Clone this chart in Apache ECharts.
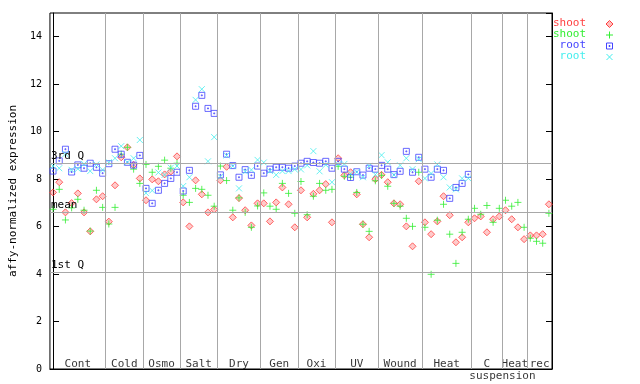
<!DOCTYPE html>
<html>
<head>
<meta charset="utf-8">
<script src="https://cdn.jsdelivr.net/npm/echarts@6/dist/echarts.min.js"></script>
<style>html,body{margin:0;padding:0;background:#fff}#c{width:640px;height:384px}</style>
</head>
<body>
<div id="c"></div>
<script>
// ---- data ----
const segmentLabels = ['Cont','Cold','Osmo','Salt','Dry','Gen','Oxi','UV','Wound','Heat','C','Heat','rec'];
const sampleCounts  = [9, 6, 6, 6, 7, 6, 6, 7, 7, 8, 5, 4, 4];
const subLabel = 'suspension';
const statLabels = ['3rd Q', 'mean', '1st Q'];
const statValues = [8.69, 6.62, 4.09];
const yTicks = [0, 2, 4, 6, 8, 10, 12, 14];

const shootRed = [
  7.44, 7.87, 6.60, 6.99, 7.40, 6.60, 5.80, 7.15, 7.28,
  6.21, 7.74, 8.92, 9.34, 8.60, 8.03,
  7.11, 7.99, 7.91, 8.20, 8.32, 8.96,
  7.02, 6.01, 7.95, 7.36, 6.60, 6.72,
  7.95, 8.52, 6.39, 7.20, 6.69, 6.05, 6.98,
  6.98, 6.22, 7.02, 7.65, 6.94, 5.97,
  7.53, 6.39, 7.38, 7.53, 7.79, 6.18,
  8.88, 8.16, 8.29, 7.36, 6.10, 5.55, 8.00,
  8.18, 7.87, 6.98, 6.94, 6.01, 5.17, 7.91,
  6.18, 5.68, 6.22, 7.28, 6.48, 5.34, 5.55, 6.18,
  6.35, 6.43, 5.76, 6.31, 6.43,
  6.69, 6.31, 5.97, 5.47,
  5.63, 5.63, 5.68, 6.94
];
const shootGreen = [
  6.73, 7.57, 6.28, 6.79, 7.15, 6.69, 5.81, 7.53, 6.81,
  6.11, 6.81, 9.05, 9.34, 8.42, 7.82,
  8.62, 8.29, 8.54, 8.80, 8.46, 8.67,
  7.32, 7.02, 7.61, 7.57, 7.32, 6.86,
  8.55, 7.94, 6.69, 7.21, 6.60, 5.97, 6.87,
  7.42, 6.86, 6.73, 7.82, 7.40, 6.56,
  7.90, 6.50, 7.28, 7.82, 7.53, 7.57,
  8.54, 8.12, 8.08, 7.44, 6.10, 5.80, 7.93,
  8.16, 7.70, 6.98, 6.86, 6.35, 6.01, 8.29,
  5.97, 3.99, 6.27, 6.94, 5.68, 4.45, 5.76, 6.31,
  6.77, 6.52, 6.89, 6.18, 6.77,
  7.11, 6.86, 7.02, 5.97,
  5.51, 5.38, 5.30, 6.56
];
const rootBlue = [
  8.34, 8.77, 9.26, 8.30, 8.60, 8.46, 8.67, 8.50, 8.25,
  8.65, 9.26, 9.05, 8.71, 8.59, 9.00,
  7.61, 6.98, 7.53, 7.82, 8.03, 8.29,
  7.50, 8.37, 11.07, 11.53, 10.98, 10.77,
  8.18, 9.05, 8.57, 8.08, 8.40, 8.16, 8.55,
  8.25, 8.42, 8.50, 8.50, 8.46, 8.55,
  8.67, 8.75, 8.70, 8.67, 8.75, 8.46,
  8.75, 8.42, 8.07, 8.31, 8.17, 8.46, 8.42,
  8.58, 8.42, 8.19, 8.33, 9.17, 8.29, 8.92,
  8.42, 8.08, 8.42, 8.37, 7.19, 7.65, 7.82, 8.20
];
const rootCyan = [
  8.55, 8.46, 9.06, 8.39, 8.43, 8.64, 8.34, 8.62, 8.39,
  8.71, 8.88, 9.39, 8.71, 8.88, 9.65,
  7.41, 7.52, 8.28, 8.18, 8.48, 8.55,
  7.71, 8.08, 11.34, 11.79, 8.75, 9.77,
  8.10, 9.00, 8.55, 7.61, 8.32, 8.39, 8.81,
  8.70, 8.34, 8.18, 8.34, 8.34, 8.41,
  8.41, 8.58, 9.18, 8.33, 8.60, 7.87,
  8.62, 8.64, 8.22, 8.30, 8.08, 8.56, 8.19,
  9.01, 8.71, 8.18, 8.58, 8.88, 8.42, 8.84,
  8.03, 8.24, 8.62, 8.08, 7.65, 7.57, 8.03, 8.03
];

// ---- build ----
const nSamples = sampleCounts.reduce((a, b) => a + b, 0);
const bounds = [];
const centers = [];
let acc = 0;
sampleCounts.forEach((c, i) => {
  centers.push(acc + c / 2 - 0.5);
  acc += c;
  if (i < sampleCounts.length - 1) bounds.push(acc - 0.5);
});
const toXY = arr => arr.map((v, i) => [i, v]);

const FONT = 'DejaVu Sans Mono';
const C_RED = '#ff4040', C_GREEN = '#33ee33', C_BLUE = '#4444ff', C_CYAN = '#44eeee';
const SYM_DIAMOND = 'path://M3.5,0L7,3.5L3.5,7L0,3.5Z';
const SYM_PLUS = 'path://M0,3.5L7,3.5M3.5,0L3.5,7';
const SYM_SQUARE = 'path://M0,0L6,0L6,6L0,6Z M2.5,2.5L3.5,2.5L3.5,3.5L2.5,3.5Z';
const SYM_CROSS = 'path://M0,0L6,6M6,0L0,6';

const chart = echarts.init(document.getElementById('c'), null, {renderer: 'canvas'});

const catLabelData = centers.map((c, i) => ({value: [c, 0.19], name: segmentLabels[i]}));
const subLabelData = [{value: [centers[10] + 2.5, -0.32], name: subLabel}];

const option = {
  animation: false,
  backgroundColor: '#fff',
  grid: {left: 44, right: 88, top: 13, bottom: 15, show: true, borderColor: '#000', borderWidth: 1, backgroundColor: 'transparent'},
  xAxis: {
    type: 'value', min: -0.5, max: nSamples - 0.5,
    axisLine: {show: true, lineStyle: {color: '#000'}},
    axisTick: {show: false}, axisLabel: {show: false}, splitLine: {show: false}
  },
  yAxis: [
    {
      type: 'value', min: 0, max: 15, interval: 2, position: 'left',
      name: 'affy-normalized expression', nameLocation: 'middle', nameGap: 27,
      nameTextStyle: {fontFamily: FONT, fontSize: 11, color: '#000'},
      axisLine: {show: true, lineStyle: {color: '#000'}},
      axisTick: {show: true, inside: true, length: 6, lineStyle: {color: '#000'}},
      axisLabel: {fontFamily: FONT, fontSize: 10, color: '#000', margin: 8, showMaxLabel: false},
      splitLine: {show: false}
    },
    {
      type: 'value', min: 0, max: 15, interval: 2, position: 'right',
      axisLine: {show: true, lineStyle: {color: '#000'}},
      axisTick: {show: true, inside: true, length: 6, lineStyle: {color: '#000'}},
      axisLabel: {show: false}, splitLine: {show: false}
    }
  ],
  series: [
    {
      type: 'scatter', name: 'guides', data: [], silent: true,
      markLine: {
        silent: true, symbol: 'none', animation: false,
        lineStyle: {color: '#a8a8a8', type: 'solid', width: 1},
        label: {show: false},
        data: bounds.map(b => ({xAxis: b})).concat(statValues.map((v, i) => ({
          yAxis: v,
          label: {show: true, formatter: statLabels[i], position: 'insideStartTop', distance: [1, 1],
                  color: '#000', fontFamily: FONT, fontSize: 11}
        })))
      }
    },
    {
      type: 'scatter', name: 'shoot', data: toXY(shootRed), symbol: SYM_DIAMOND, symbolSize: 7,
      itemStyle: {color: 'rgba(255,64,64,0.35)', borderColor: C_RED, borderWidth: 1}
    },
    {
      type: 'scatter', name: 'shoot2', data: toXY(shootGreen), symbol: SYM_PLUS, symbolSize: 7,
      itemStyle: {color: 'transparent', borderColor: C_GREEN, borderWidth: 1}
    },
    {
      type: 'scatter', name: 'root', data: toXY(rootBlue), symbol: SYM_SQUARE, symbolSize: 6,
      itemStyle: {color: 'transparent', borderColor: C_BLUE, borderWidth: 1}
    },
    {
      type: 'scatter', name: 'root2', data: toXY(rootCyan), symbol: SYM_CROSS, symbolSize: 6,
      itemStyle: {color: 'transparent', borderColor: C_CYAN, borderWidth: 1}
    },
    {
      type: 'scatter', name: 'labels', data: catLabelData.concat(subLabelData), symbolSize: 0, clip: false, silent: true,
      label: {show: true, position: 'inside', formatter: p => p.name, color: '#000', fontFamily: FONT, fontSize: 11}
    }
  ],
  graphic: [
    {type: 'text', right: 54, top: 18, style: {text: 'shoot', fill: C_RED, font: '11px ' + FONT, textAlign: 'right'}},
    {type: 'text', right: 54, top: 29, style: {text: 'shoot', fill: C_GREEN, font: '11px ' + FONT, textAlign: 'right'}},
    {type: 'text', right: 54, top: 40, style: {text: 'root', fill: C_BLUE, font: '11px ' + FONT, textAlign: 'right'}},
    {type: 'text', right: 54, top: 51, style: {text: 'root', fill: C_CYAN, font: '11px ' + FONT, textAlign: 'right'}},
    {type: 'polygon', shape: {points: [[609.5, 20.5], [613, 24], [609.5, 27.5], [606, 24]]},
     style: {fill: 'rgba(255,64,64,0.35)', stroke: C_RED, lineWidth: 1}},
    {type: 'group', children: [
      {type: 'line', shape: {x1: 606, y1: 35, x2: 613, y2: 35}, style: {stroke: C_GREEN, lineWidth: 1}},
      {type: 'line', shape: {x1: 609.5, y1: 31.5, x2: 609.5, y2: 38.5}, style: {stroke: C_GREEN, lineWidth: 1}}
    ]},
    {type: 'rect', shape: {x: 606.5, y: 43, width: 6, height: 6}, style: {fill: 'transparent', stroke: C_BLUE, lineWidth: 1}},
    {type: 'rect', shape: {x: 609, y: 45.5, width: 1, height: 1}, style: {fill: 'transparent', stroke: C_BLUE, lineWidth: 1}},
    {type: 'group', children: [
      {type: 'line', shape: {x1: 606.5, y1: 54, x2: 612.5, y2: 60}, style: {stroke: C_CYAN, lineWidth: 1}},
      {type: 'line', shape: {x1: 612.5, y1: 54, x2: 606.5, y2: 60}, style: {stroke: C_CYAN, lineWidth: 1}}
    ]}
  ]
};
chart.setOption(option);
</script>
</body>
</html>
